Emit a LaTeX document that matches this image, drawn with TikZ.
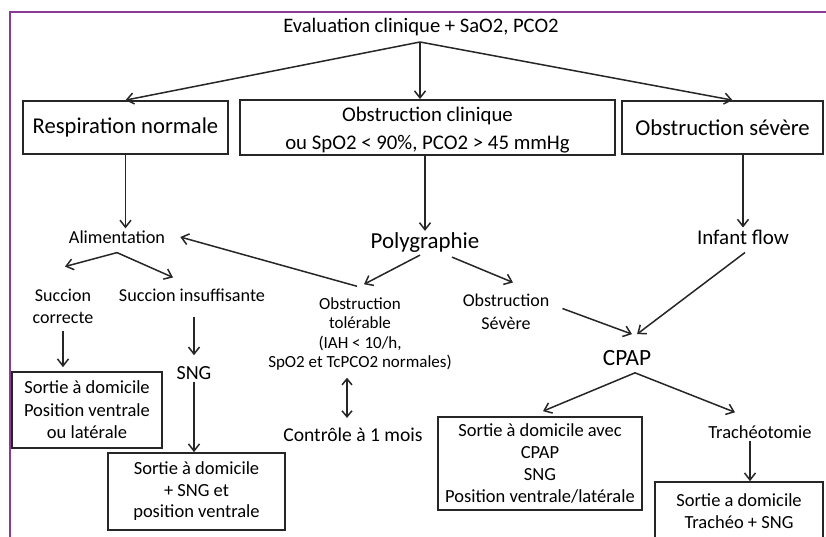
\documentclass[tikz,border=0pt]{standalone}
\usepackage{fontspec}
\setmainfont{Carlito}
\usetikzlibrary{arrows.meta,calc}
\definecolor{cadre}{RGB}{139,58,150}
\tikzset{
  boite/.style={draw=black!85, line width=1.7pt, align=center, inner sep=2pt},
  etiq/.style={align=center, inner sep=2pt},
  fleche/.style={-{Straight Barb[length=7pt,width=11pt]}, line width=1.5pt, draw=black!85},
  dfleche/.style={{Straight Barb[length=6pt,width=10pt]}-{Straight Barb[length=6pt,width=10pt]}, line width=1.5pt, draw=black!85},
}
\begin{document}
\begin{tikzpicture}[x=1pt,y=-1pt]
    \useasboundingbox (0,0) rectangle (826,537);
    %cadre violet
    \draw[cadre, line width=2pt] (826,12) -- (10,12) -- (10,537);

    %titre
    \node[etiq, font=\fontsize{20.6}{25}\selectfont] (eval) at (421,27) {Evaluation clinique + SaO2, PCO2};
    \coordinate (split) at (420,42);

    %trois boites du haut
    \node[boite, font=\fontsize{22.6}{27}\selectfont, minimum width=205pt, minimum height=53pt] (resp) at (125.5,127.5) {Respiration normale};
    \node[boite, font=\fontsize{20.8}{28}\selectfont, minimum width=375pt, minimum height=53pt] (obcl) at (427.5,127.5) {\strut Obstruction clinique\\ou SpO2 < 90\%, PCO2 > 45 mmHg};
    \node[boite, font=\fontsize{22.7}{27}\selectfont, minimum width=201pt, minimum height=53pt] (obsev) at (722.5,127.5) {Obstruction sévère};

    %etiquettes
    \node[etiq, font=\fontsize{18.3}{22}\selectfont] (alim) at (117,237) {Alimentation};
    \node[etiq, font=\fontsize{22.9}{27}\selectfont] (poly) at (425,243) {Polygraphie};
    \node[etiq, font=\fontsize{21}{25}\selectfont] (infant) at (743,237) {Infant flow};
    \node[etiq, font=\fontsize{18}{22}\selectfont] (succ1) at (63,306) {Succion\\correcte};
    \node[etiq, font=\fontsize{18.2}{22}\selectfont] (succ2) at (192,295) {Succion insuffisante};
    \node[etiq, font=\fontsize{17}{19.5}\selectfont] (obtol) at (360,334) {Obstruction\\tolérable\\(IAH < 10/h,\\SpO2 et TcPCO2 normales)};
    \node[etiq, font=\fontsize{18}{23}\selectfont] (obsev2) at (506,311.5) {Obstruction\\Sévère};
    \node[etiq, font=\fontsize{23.3}{27}\selectfont] (cpap) at (627,358) {CPAP};
    \node[etiq, font=\fontsize{20}{24}\selectfont] (sng) at (194,373) {SNG};
    \node[etiq, font=\fontsize{19.6}{24}\selectfont] (ctrl) at (353,435) {Contrôle à 1 mois};
    \node[etiq, font=\fontsize{18.5}{22}\selectfont] (trach) at (760,432) {Trachéotomie};

    %boites de sortie
    \node[boite, font=\fontsize{18.5}{22.5}\selectfont, minimum width=150pt, minimum height=76pt] (sortA) at (87,410) {Sortie à domicile\\Position ventrale\\ou latérale};
    \node[boite, font=\fontsize{18.5}{21.5}\selectfont, minimum width=177pt, minimum height=77pt] (sortB) at (196.5,491.5) {Sortie à domicile\\+ SNG et\\position ventrale};
    \node[boite, font=\fontsize{18.5}{21.7}\selectfont, minimum width=204pt, minimum height=93pt] (sortC) at (540,463.5) {Sortie à domicile avec\\CPAP\\SNG\\Position ventrale/latérale};
    \node[boite, font=\fontsize{18.5}{22}\selectfont, minimum width=168pt, minimum height=58pt] (sortD) at (739,511) {Sortie a domicile\\Trachéo + SNG};

    %fleches du titre
    \draw[fleche] (split) -- (resp.north);
    \draw[fleche] (split) -- (split |- obcl.north);
    \draw[fleche] (split) -- ([xshift=10pt]obsev.north);

    %colonne gauche
    \draw[fleche] (resp.south) -- (resp.south |- alim.north);
    \draw[fleche] ([yshift=-7pt]alim.south) -- ([xshift=2pt,yshift=20pt]succ1.north);
    \draw[fleche] ([yshift=-7pt]alim.south) -- ([xshift=-19pt,yshift=9pt]succ2.north);
    \draw[fleche, shorten <=6pt, shorten >=4pt] (succ1.south) -- (succ1.south |- sortA.north);
    \draw[fleche, shorten <=13pt, shorten >=9pt] (sng.north |- succ2.south) -- (sng.north);
    \draw[fleche] (sng.south) -- (sng.south |- sortB.north);

    %colonne centrale
    \draw[fleche] (poly.north |- obcl.south) -- (poly.north);
    \draw[fleche] ([xshift=-5pt]poly.south) -- ([xshift=4pt,yshift=11pt]obtol.north);
    \draw[fleche] ([xshift=27pt,yshift=-2pt]poly.south) -- ([xshift=7pt,yshift=9pt]obsev2.north);
    \draw[fleche] ([xshift=-3pt,yshift=9pt]obtol.north) -- ([xshift=13pt]alim.east);
    \draw[dfleche, shorten <=5pt, shorten >=8pt] ([xshift=-13pt]obtol.south) -- ([xshift=-6pt]ctrl.north);

    %colonne droite
    \draw[fleche] (infant.north |- obsev.south) -- (infant.north);
    \draw[fleche] ([xshift=11pt,yshift=3pt]obsev2.east) -- ([xshift=5pt,yshift=14pt]cpap.north);
    \draw[fleche] ([xshift=2pt,yshift=-6pt]infant.south) -- ([xshift=10pt,yshift=14pt]cpap.north);
    \draw[fleche] ([xshift=8pt,yshift=-5pt]cpap.south) -- ([xshift=3pt,yshift=5pt]sortC.north);
    \draw[fleche] ([xshift=8pt,yshift=-5pt]cpap.south) -- ([xshift=-25pt,yshift=11pt]trach.north);
    \draw[fleche] ([xshift=-10pt]trach.south) -- ([xshift=11pt]sortD.north);
\end{tikzpicture}
\end{document}
